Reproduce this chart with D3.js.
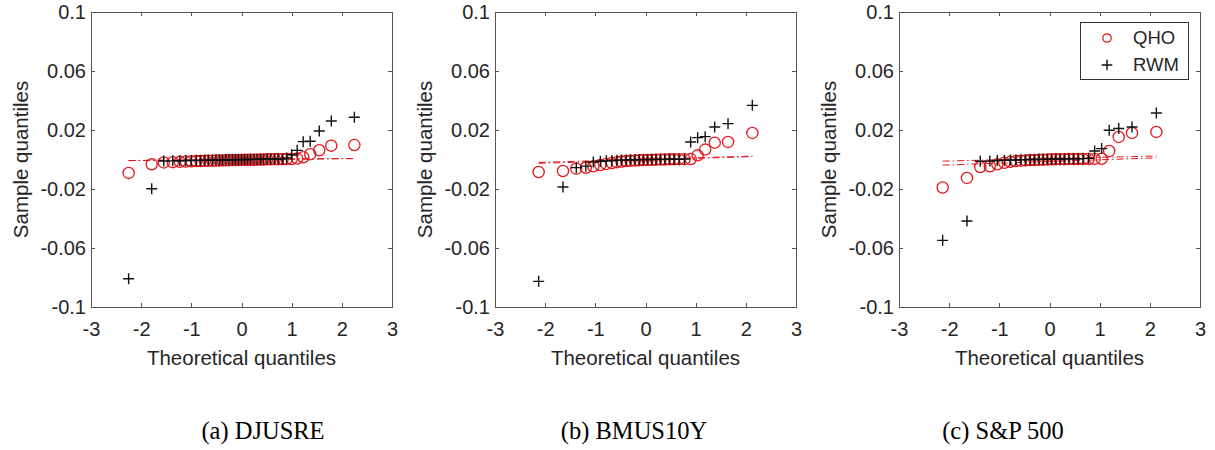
<!DOCTYPE html>
<html>
<head>
<meta charset="utf-8">
<script src="https://cdn.jsdelivr.net/npm/d3@7"></script>
<style>
  html, body { margin: 0; padding: 0; background: #fff; }
  svg { display: block; }
</style>
</head>
<body>
<svg id="chart" width="1215" height="450"></svg>
<script>
// ---------------- data ----------------
const xTicks = [-3, -2, -1, 0, 1, 2, 3];
const xTickLabels = ["-3", "-2", "-1", "0", "1", "2", "3"];
const yTicks = [0.1, 0.06, 0.02, -0.02, -0.06, -0.1];
const yTickLabels = ["0.1", "0.06", "0.02", "-0.02", "-0.06", "-0.1"];
const xLabel = "Theoretical quantiles";
const yLabel = "Sample quantiles";
const seriesNames = ["QHO", "RWM"];
const captions = ["(a) DJUSRE", "(b) BMUS10Y", "(c) S&P 500"];

// theoretical quantiles (41 points for DJUSRE, 30 for the others)
const x41 = [-2.25, -1.79, -1.55, -1.37, -1.23, -1.11, -1.00, -0.90, -0.82, -0.73, -0.66,
  -0.58, -0.51, -0.44, -0.38, -0.31, -0.25, -0.18, -0.12, -0.06, 0.00,
  0.06, 0.12, 0.18, 0.25, 0.31, 0.38, 0.44, 0.51, 0.58, 0.66,
  0.73, 0.82, 0.90, 1.00, 1.11, 1.23, 1.37, 1.55, 1.79, 2.25];
const x30 = [-2.13, -1.645, -1.38, -1.19, -1.04, -0.90, -0.78, -0.67, -0.57, -0.48,
  -0.385, -0.30, -0.21, -0.126, -0.042, 0.042, 0.126, 0.21, 0.30, 0.385,
  0.48, 0.57, 0.67, 0.78, 0.90, 1.04, 1.19, 1.38, 1.645, 2.13];

// sample quantiles
const qhoDJUSRE = [-0.0091, -0.0033, -0.0020, -0.0018, -0.0016, -0.0014, -0.0012, -0.0011, -0.0010, -0.0009, -0.0008,
  -0.0008, -0.0007, -0.0006, -0.0006, -0.0005, -0.0005, -0.0004, -0.0004, -0.0003, -0.0003,
  -0.0002, -0.0002, -0.0002, -0.0001, -0.0001, 0.0000, 0.0000, 0.0001, 0.0001, 0.0002,
  0.0002, 0.0002, 0.0003, 0.0003, 0.0006, 0.0015, 0.0036, 0.0063, 0.0094, 0.0098];
const rwmDJUSRE = [-0.0808, -0.0198, -0.0010, -0.0009, -0.0008, -0.0007, -0.0007, -0.0006, -0.0006, -0.0005, -0.0005,
  -0.0004, -0.0004, -0.0003, -0.0003, -0.0002, -0.0002, -0.0002, -0.0001, -0.0001, 0.0000,
  0.0000, 0.0000, 0.0001, 0.0001, 0.0001, 0.0002, 0.0002, 0.0002, 0.0003, 0.0003,
  0.0004, 0.0005, 0.0010, 0.0032, 0.0062, 0.0121, 0.0124, 0.0193, 0.0261, 0.0286];

const qhoBMUS10Y = [-0.0085, -0.0078, -0.0062, -0.0056, -0.0046, -0.0038, -0.0030, -0.0024, -0.0018, -0.0014,
  -0.0011, -0.0009, -0.0007, -0.0005, -0.0004, -0.0003, -0.0002, -0.0001, 0.0000, 0.0000,
  0.0001, 0.0001, 0.0002, 0.0002, 0.0003, 0.0028, 0.0067, 0.0114, 0.0119, 0.0180];
const rwmBMUS10Y = [-0.0826, -0.0186, -0.0055, -0.0045, -0.0017, -0.0012, -0.0009, -0.0007, -0.0005, -0.0004,
  -0.0003, -0.0002, -0.0002, -0.0001, -0.0001, 0.0000, 0.0000, 0.0001, 0.0001, 0.0001,
  0.0002, 0.0002, 0.0002, 0.0003, 0.0119, 0.0148, 0.0155, 0.0220, 0.0243, 0.0367];

const qhoSP500 = [-0.0190, -0.0125, -0.0051, -0.0046, -0.0033, -0.0022, -0.0015, -0.0011, -0.0008, -0.0006,
  -0.0004, -0.0003, -0.0002, -0.0001, 0.0000, 0.0001, 0.0001, 0.0002, 0.0002, 0.0003,
  0.0003, 0.0003, 0.0003, 0.0003, 0.0004, 0.0005, 0.0058, 0.0153, 0.0180, 0.0187];
const rwmSP500 = [-0.0548, -0.0417, -0.0012, -0.0011, -0.0007, -0.0005, -0.0004, -0.0003, -0.0002, -0.0001,
  0.0000, 0.0000, 0.0001, 0.0001, 0.0002, 0.0002, 0.0003, 0.0003, 0.0004, 0.0004,
  0.0005, 0.0005, 0.0006, 0.0008, 0.0058, 0.0074, 0.0198, 0.0210, 0.0220, 0.0315];

// reference (fit) lines: [[x1, y1], [x2, y2]]
const refQhoDJUSRE = [[-2.25, -0.0008], [2.25, 0.0006]];
const refRwmDJUSRE = [[-2.25, -0.0007], [2.25, 0.0007]];
const refQhoBMUS10Y = [[-2.13, -0.0026], [2.13, 0.0020]];
const refRwmBMUS10Y = [[-2.13, -0.0020], [2.13, 0.0023]];
const refQhoSP500 = [[-2.13, -0.0038], [2.13, 0.0011]];
const refRwmSP500 = [[-2.13, -0.0011], [2.13, 0.0024]];

// ---------------- layout / style ----------------
const panels = [
  { x: x41, qho: qhoDJUSRE, rwm: rwmDJUSRE, refQ: refQhoDJUSRE, refR: refRwmDJUSRE, left: 91, capX: 263, legend: false },
  { x: x30, qho: qhoBMUS10Y, rwm: rwmBMUS10Y, refQ: refQhoBMUS10Y, refR: refRwmBMUS10Y, left: 495, capX: 634, legend: false },
  { x: x30, qho: qhoSP500, rwm: rwmSP500, refQ: refQhoSP500, refR: refRwmSP500, left: 899, capX: 1003, legend: true }
];
const plotW = 301, plotH = 295, plotTop = 12;
const RED = "#e3161b";
const AX = "#555555";
const TXT = "#262626";
const FONT = "'Liberation Sans', Arial, sans-serif";

const svg = d3.select("#chart");

panels.forEach((p, pi) => {
  const x = d3.scaleLinear().domain([-3, 3]).range([0, plotW]);
  const y = d3.scaleLinear().domain([-0.1, 0.1]).range([plotH, 0]);
  const g = svg.append("g").attr("transform", `translate(${p.left},${plotTop})`);

  // box
  g.append("rect").attr("x", 0).attr("y", 0).attr("width", plotW).attr("height", plotH)
    .attr("fill", "#fff").attr("stroke", AX).attr("stroke-width", 1).attr("shape-rendering", "crispEdges");

  const styleAxis = (sel, showText) => {
    sel.select(".domain").remove();
    sel.selectAll(".tick line").attr("stroke", AX).attr("shape-rendering", "crispEdges");
    sel.selectAll(".tick text").attr("fill", TXT).style("font-family", FONT).style("font-size", "20px");
    if (!showText) sel.selectAll(".tick text").remove();
  };

  g.append("g").attr("transform", `translate(0,${plotH})`)
    .call(d3.axisBottom(x).tickValues(xTicks).tickFormat((d, i) => xTickLabels[i]).tickSizeInner(-4).tickSizeOuter(0).tickPadding(15))
    .call(s => styleAxis(s, true));
  g.append("g")
    .call(d3.axisTop(x).tickValues(xTicks).tickSizeInner(-4).tickSizeOuter(0))
    .call(s => styleAxis(s, false));
  g.append("g")
    .call(d3.axisLeft(y).tickValues(yTicks).tickFormat((d, i) => yTickLabels[i]).tickSizeInner(-4).tickSizeOuter(0).tickPadding(5))
    .call(s => styleAxis(s, true));
  g.append("g").attr("transform", `translate(${plotW},0)`)
    .call(d3.axisRight(y).tickValues(yTicks).tickSizeInner(-4).tickSizeOuter(0))
    .call(s => styleAxis(s, false));

  // axis labels
  g.append("text").attr("x", plotW / 2).attr("y", 353).attr("text-anchor", "middle")
    .attr("fill", TXT).style("font-family", FONT).style("font-size", "20.5px").text(xLabel);
  g.append("text").attr("transform", `translate(-63,${plotH / 2}) rotate(-90)`).attr("text-anchor", "middle")
    .attr("fill", TXT).style("font-family", FONT).style("font-size", "20.5px").text(yLabel);

  // reference lines
  const line = d3.line().x(d => x(d[0])).y(d => y(d[1]));
  [p.refQ, p.refR].forEach(r => {
    g.append("path").attr("d", line(r)).attr("fill", "none").attr("stroke", RED)
      .attr("stroke-width", 1).attr("stroke-dasharray", "7,3,1.5,3");
  });

  // QHO circles
  const qData = p.x.map((xv, i) => [xv, p.qho[i]]);
  g.append("g").selectAll("circle").data(qData).join("circle")
    .attr("cx", d => x(d[0])).attr("cy", d => y(d[1])).attr("r", 5.6)
    .attr("fill", "none").attr("stroke", RED).attr("stroke-width", 1.3);

  // RWM plus markers
  const rData = p.x.map((xv, i) => [xv, p.rwm[i]]);
  const s = 5.5;
  g.append("g").selectAll("path").data(rData).join("path")
    .attr("d", d => `M${x(d[0]) - s},${y(d[1])}H${x(d[0]) + s}M${x(d[0])},${y(d[1]) - s}V${y(d[1]) + s}`)
    .attr("stroke", "#111").attr("stroke-width", 1.4).attr("fill", "none");

  // caption
  svg.append("text").attr("x", p.capX).attr("y", 439).attr("text-anchor", "middle")
    .attr("fill", "#000").style("font-family", "'Liberation Serif', 'DejaVu Serif', serif")
    .style("font-size", "24.5px").text(captions[pi]);

  // legend
  if (p.legend) {
    const lx = 1080 - p.left, ly = 22 - plotTop;
    const lg = g.append("g").attr("transform", `translate(${lx},${ly})`);
    lg.append("rect").attr("x", 0).attr("y", 0).attr("width", 108).attr("height", 57)
      .attr("fill", "#fff").attr("stroke", "#333").attr("stroke-width", 1).attr("shape-rendering", "crispEdges");
    lg.append("circle").attr("cx", 27).attr("cy", 16).attr("r", 4.2)
      .attr("fill", "none").attr("stroke", RED).attr("stroke-width", 1.3);
    lg.append("path").attr("d", `M${27 - 5.3},43H${27 + 5.3}M27,${43 - 5.3}V${43 + 5.3}`)
      .attr("stroke", "#111").attr("stroke-width", 1.4);
    lg.append("text").attr("x", 53).attr("y", 16).attr("dy", "0.35em").attr("fill", TXT)
      .style("font-family", FONT).style("font-size", "18.5px").text(seriesNames[0]);
    lg.append("text").attr("x", 53).attr("y", 43).attr("dy", "0.35em").attr("fill", TXT)
      .style("font-family", FONT).style("font-size", "18.5px").text(seriesNames[1]);
  }
});
</script>
</body>
</html>
